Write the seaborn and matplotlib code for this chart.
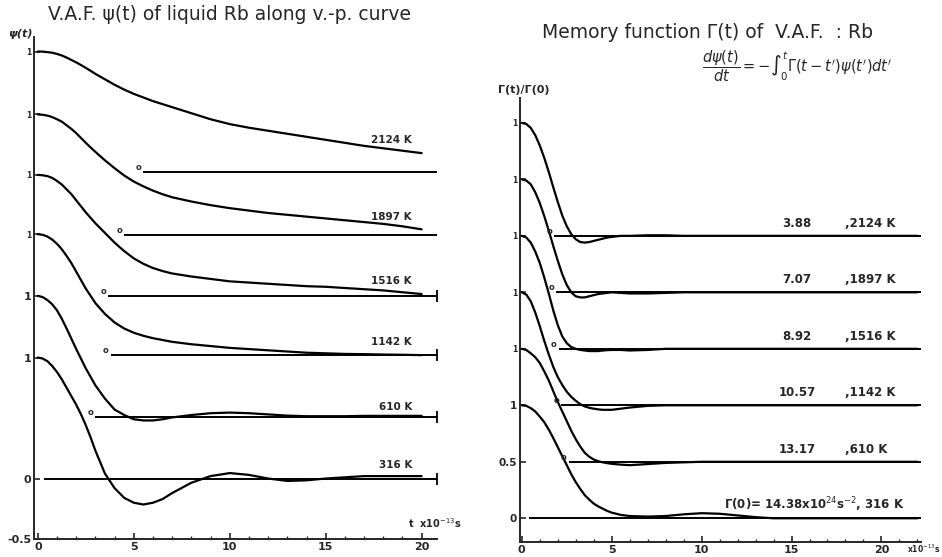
import pandas as pd
import seaborn as sns
import matplotlib.pyplot as plt
from matplotlib.ticker import MultipleLocator

# temperatures, bottom curve first
temps = ["316 K", "610 K", "1142 K", "1516 K", "1897 K", "2124 K"]

# velocity autocorrelation psi(t), t in units of 1e-13 s
t_vaf = [0, 0.25, 0.5, 0.75, 1, 1.25, 1.5, 1.75, 2, 2.25, 2.5, 2.75, 3, 3.5, 4, 4.5, 5, 5.5, 6, 6.5, 7,
         8, 9, 10, 11, 12, 13, 14, 15, 16, 17, 18, 19, 20]
vaf_316 = [1.0, 0.992, 0.97, 0.93, 0.88, 0.82, 0.75, 0.68, 0.61, 0.53, 0.44, 0.34, 0.23,
           0.04, -0.08, -0.16, -0.20, -0.215, -0.20, -0.17, -0.12,
           -0.035, 0.02, 0.045, 0.03, 0.0, -0.02, -0.015, 0.0, 0.01, 0.02, 0.02, 0.02, 0.02]
vaf_610 = [1.0, 0.99, 0.965, 0.93, 0.88, 0.81, 0.73, 0.645, 0.56, 0.48, 0.40, 0.33, 0.26,
           0.15, 0.06, 0.015, -0.02, -0.03, -0.03, -0.02, -0.005,
           0.015, 0.03, 0.035, 0.03, 0.02, 0.01, 0.005, 0.005, 0.005, 0.008, 0.008, 0.008, 0.008]
vaf_1142 = [1.0, 0.995, 0.98, 0.955, 0.92, 0.875, 0.82, 0.76, 0.69, 0.62, 0.55, 0.49, 0.43,
            0.34, 0.27, 0.22, 0.185, 0.16, 0.14, 0.125, 0.11,
            0.09, 0.075, 0.06, 0.05, 0.04, 0.03, 0.02, 0.015, 0.01, 0.008, 0.005, 0.003, 0.0]
vaf_1516 = [1.0, 0.997, 0.99, 0.975, 0.95, 0.92, 0.88, 0.84, 0.79, 0.74, 0.69, 0.645, 0.60,
            0.52, 0.44, 0.37, 0.31, 0.265, 0.23, 0.205, 0.185,
            0.16, 0.14, 0.12, 0.11, 0.10, 0.09, 0.08, 0.075, 0.065, 0.055, 0.045, 0.03, 0.015]
vaf_1897 = [1.0, 0.997, 0.99, 0.978, 0.96, 0.94, 0.91, 0.88, 0.845, 0.805, 0.765, 0.727, 0.69,
            0.62, 0.555, 0.495, 0.445, 0.405, 0.37, 0.34, 0.315,
            0.28, 0.25, 0.225, 0.205, 0.185, 0.17, 0.155, 0.14, 0.125, 0.11, 0.095, 0.075, 0.05]
vaf_2124 = [1.0, 0.999, 0.995, 0.99, 0.98, 0.967, 0.95, 0.93, 0.91, 0.888, 0.865, 0.84, 0.815,
            0.77, 0.725, 0.685, 0.65, 0.62, 0.59, 0.565, 0.54,
            0.49, 0.44, 0.40, 0.37, 0.345, 0.32, 0.295, 0.27, 0.245, 0.22, 0.20, 0.18, 0.16]

# memory function Gamma(t)/Gamma(0)
t_mem = [0, 0.25, 0.5, 0.75, 1, 1.25, 1.5, 1.75, 2, 2.25, 2.5, 2.75, 3, 3.25, 3.5, 3.75, 4, 4.25, 4.5, 4.75, 5,
         5.5, 6, 7, 8, 9, 10, 11, 12, 13, 14, 16, 18, 20, 22]
mem_316 = [1.0, 0.995, 0.975, 0.945, 0.90, 0.85, 0.785, 0.71, 0.63, 0.55, 0.47, 0.39, 0.32, 0.26, 0.205,
           0.165, 0.13, 0.105, 0.085, 0.065, 0.05,
           0.03, 0.02, 0.015, 0.02, 0.035, 0.045, 0.04, 0.025, 0.01, 0.0, 0.0, 0.0, 0.0, 0.0]
mem_610 = [1.0, 0.99, 0.96, 0.925, 0.875, 0.80, 0.72, 0.625, 0.53, 0.445, 0.36, 0.275, 0.20, 0.135, 0.08,
           0.045, 0.02, 0.005, -0.005, -0.012, -0.018,
           -0.025, -0.03, -0.02, -0.01, -0.005, 0.0, 0.0, 0.0, 0.0, 0.0, 0.0, 0.0, 0.0, 0.0]
mem_1142 = [1.0, 0.98, 0.92, 0.82, 0.70, 0.57, 0.45, 0.34, 0.25, 0.18, 0.12, 0.075, 0.04, 0.01, -0.01,
            -0.022, -0.03, -0.036, -0.04, -0.04, -0.04,
            -0.03, -0.02, -0.005, 0.0, 0.0, 0.0, 0.0, 0.0, 0.0, 0.0, 0.0, 0.0, 0.0, 0.0]
mem_1516 = [1.0, 0.985, 0.94, 0.86, 0.76, 0.63, 0.49, 0.34, 0.21, 0.11, 0.05, 0.015, 0.0, -0.01, -0.015,
            -0.02, -0.02, -0.02, -0.015, -0.012, -0.01,
            -0.01, -0.015, -0.01, 0.0, 0.0, 0.0, 0.0, 0.0, 0.0, 0.0, 0.0, 0.0, 0.0, 0.0]
mem_1897 = [1.0, 0.99, 0.955, 0.885, 0.79, 0.675, 0.545, 0.41, 0.28, 0.16, 0.065, 0.0, -0.035, -0.045, -0.045,
            -0.035, -0.025, -0.015, -0.01, -0.005, 0.0,
            -0.005, -0.01, -0.01, -0.005, 0.0, 0.0, 0.0, 0.0, 0.0, 0.0, 0.0, 0.0, 0.0, 0.0]
mem_2124 = [1.0, 0.99, 0.955, 0.89, 0.80, 0.69, 0.565, 0.43, 0.30, 0.18, 0.085, 0.015, -0.03, -0.055, -0.06,
            -0.055, -0.045, -0.035, -0.025, -0.015, -0.01,
            0.0, 0.0, 0.005, 0.005, 0.0, 0.0, 0.0, 0.0, 0.0, 0.0, 0.0, 0.0, 0.0, 0.0]

# Gamma(0) in 1e24 s^-2
gamma0 = ["14.38", "13.17", "10.57", "8.92", "7.07", "3.88"]

vaf_curves = [vaf_316, vaf_610, vaf_1142, vaf_1516, vaf_1897, vaf_2124]
mem_curves = [mem_316, mem_610, mem_1142, mem_1516, mem_1897, mem_2124]

# layout: vertical shift of each curve, where each zero line starts
shift_left = [0, 0.51, 1.02, 1.51, 2.01, 2.53]
shift_right = [0, 0.5, 1.0, 1.5, 2.0, 2.5]
zero_from_left = [0.3, 3.0, 3.8, 3.65, 4.5, 5.5]
zero_from_right = [0.4, 2.6, 2.2, 2.05, 1.9, 1.8]
label_lift_left = [0.11, 0.085, 0.11, 0.125, 0.155, 0.27]

sns.set_style("ticks")
plt.rcParams['font.family'] = ['DejaVu Sans']
plt.rcParams['mathtext.fontset'] = 'dejavusans'

W, H = 942, 557
fig = plt.figure(figsize=(W / 100, H / 100), dpi=100)
ax1 = fig.add_axes([34 / W, 18 / H, 403 / W, 502 / H])
ax2 = fig.add_axes([520 / W, 15 / H, 401 / W, 444 / H])

# ---- left panel: V.A.F.
for i, vals in enumerate(vaf_curves):
    df = pd.DataFrame({'t': t_vaf, 'psi': vals})
    df['y'] = df['psi'] + shift_left[i]
    sns.lineplot(data=df, x='t', y='y', color='black', lw=1.6, ax=ax1)
    ax1.hlines(shift_left[i], zero_from_left[i], 20.8, color='black', lw=1.4)
    if i > 0:
        ax1.text(zero_from_left[i] - 0.1, shift_left[i], 'o', ha='right', va='bottom',
                 fontsize=6, fontweight='bold')
    if i < 4:
        ax1.plot([20.8], [shift_left[i]], marker='|', ms=8, mew=1.3, color='black')
    ax1.text(19.5, shift_left[i] + label_lift_left[i], temps[i], ha='right', va='center',
             fontsize=7.5, fontweight='bold')

ax1.set_xlim(-0.2, 20.8)
ax1.set_ylim(-0.5, 3.65)
ax1.set_xticks([0, 5, 10, 15, 20])
ax1.xaxis.set_minor_locator(MultipleLocator(1))
left_ticks = [-0.5, 0] + [s + 1 for s in shift_left]
ax1.set_yticks(left_ticks, ['-0.5', '0'] + ['1'] * 6)
for k, lab in enumerate(ax1.get_yticklabels()):
    lab.set_fontsize(8 if k < 4 else 5.5)
    lab.set_fontweight('bold')
ax1.text(19.3, -0.37, 't  x10$^{-13}$s', fontsize=7, fontweight='bold', ha='left', va='center',
         clip_on=False)

# ---- right panel: memory function
for i, vals in enumerate(mem_curves):
    df = pd.DataFrame({'t': t_mem, 'gam': vals})
    df['y'] = df['gam'] + shift_right[i]
    sns.lineplot(data=df, x='t', y='y', color='black', lw=1.6, ax=ax2)
    ax2.hlines(shift_right[i], zero_from_right[i], 22.2, color='black', lw=1.4)
    if i > 0:
        ax2.text(zero_from_right[i] - 0.1, shift_right[i], 'o', ha='right', va='bottom',
                 fontsize=6, fontweight='bold')
        ax2.text(15.3, shift_right[i] + 0.11, gamma0[i], ha='center', va='center',
                 fontsize=8.5, fontweight='bold')
        ax2.text(18.0, shift_right[i] + 0.11, ',' + temps[i], ha='left', va='center',
                 fontsize=8.5, fontweight='bold')
    else:
        ax2.text(21.3, shift_right[i] + 0.12,
                 'Γ(0)= ' + gamma0[i] + 'x10$^{24}$s$^{-2}$, ' + temps[i],
                 ha='right', va='center', fontsize=8.5, fontweight='bold')

ax2.set_xlim(-0.1, 22.2)
ax2.set_ylim(-0.21, 3.72)
ax2.set_xticks([0, 5, 10, 15, 20])
ax2.xaxis.set_minor_locator(MultipleLocator(1))
right_ticks = [0, 0.5] + [s + 1 for s in shift_right]
ax2.set_yticks(right_ticks, ['0', '0.5'] + ['1'] * 6)
for k, lab in enumerate(ax2.get_yticklabels()):
    lab.set_fontsize(7.5 if k < 3 else 5.5)
    lab.set_fontweight('bold')

for ax in (ax1, ax2):
    sns.despine(ax=ax)
    ax.spines['left'].set_linewidth(1.4)
    ax.spines['bottom'].set_linewidth(1.4)
    ax.set_xlabel('')
    ax.set_ylabel('')
    ax.tick_params(axis='both', which='major', direction='in', length=4, width=1.2, pad=2)
    ax.tick_params(axis='x', which='minor', direction='in', length=2.5, width=1)
    ax.tick_params(axis='x', labelsize=8)
    for lab in ax.get_xticklabels():
        lab.set_fontweight('bold')

# titles and axis names
fig.text(230 / W, 1 - 15 / H, 'V.A.F. ψ(t) of liquid Rb along v.-p. curve',
         ha='center', va='center', fontsize=13.5)
fig.text(708 / W, 1 - 32 / H, 'Memory function Γ(t) of  V.A.F.  : Rb',
         ha='center', va='center', fontsize=13.5)
fig.text(702 / W, 1 - 66 / H,
         r"$\dfrac{d\psi(t)}{dt} = -\int_0^{t}\Gamma(t-t')\psi(t')dt'$",
         ha='left', va='center', fontsize=10.5)
fig.text(8 / W, 1 - 34 / H, 'ψ(t)', ha='left', va='center', fontsize=8, fontweight='bold',
         style='italic')
fig.text(498 / W, 1 - 90 / H, 'Γ(t)/Γ(0)', ha='left', va='center', fontsize=8, fontweight='bold')
fig.text(940 / W, 1 - 549 / H, 'x10$^{-13}$s', ha='right', va='center', fontsize=5.5,
         fontweight='bold')

fig.savefig('out.png', dpi=100)
